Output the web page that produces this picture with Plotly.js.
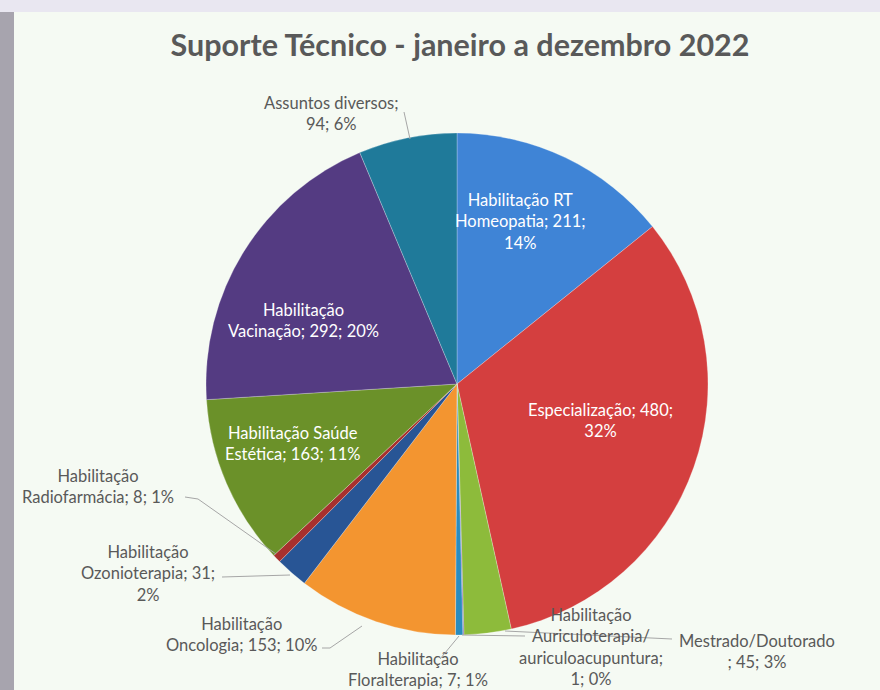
<!DOCTYPE html>
<html>
<head>
<meta charset="utf-8">
<script src="https://cdn.plot.ly/plotly-3.0.1.min.js"></script>
<style>html,body{margin:0;padding:0;background:#f5faf3;}#chart{width:880px;height:690px;}</style>
</head>
<body>
<div id="chart"></div>
<script>
// ---- data ----
const categories = [
  "Habilitação RT Homeopatia",
  "Especialização",
  "Mestrado/Doutorado",
  "Habilitação Auriculoterapia/auriculoacupuntura",
  "Habilitação Floralterapia",
  "Habilitação Oncologia",
  "Habilitação Ozonioterapia",
  "Habilitação Radiofarmácia",
  "Habilitação Saúde Estética",
  "Habilitação Vacinação",
  "Assuntos diversos"
];
const values = [211, 480, 45, 1, 7, 153, 31, 8, 163, 292, 94];
const percentLabels = ["14%", "32%", "3%", "0%", "1%", "10%", "2%", "1%", "11%", "20%", "6%"];

// ---- styling / layout (not data) ----
const colors = ["#3f84d6", "#d43f3f", "#8dbb3b", "#7a5aa8", "#2a8cbf", "#f39530",
                "#285595", "#a8302e", "#6b9129", "#543b82", "#1f7a9a"];
const textFormats = [
  "Habilitação RT<br>Homeopatia; {v};<br>{p}",
  "Especialização; {v};<br>{p}",
  "Mestrado/Doutorado<br>; {v}; {p}",
  "Habilitação<br>Auriculoterapia/<br>auriculoacupuntura;<br>{v}; {p}",
  "Habilitação<br>Floralterapia; {v}; {p}",
  "Habilitação<br>Oncologia; {v}; {p}",
  "Habilitação<br>Ozonioterapia; {v};<br>{p}",
  "Habilitação<br>Radiofarmácia; {v}; {p}",
  "Habilitação Saúde<br>Estética; {v}; {p}",
  "Habilitação<br>Vacinação; {v}; {p}",
  "Assuntos diversos;<br>{v}; {p}"
];
const labelPos = [
  [520, 221, true], [600, 420, true], [757, 651, false], [591, 647, false],
  [418, 669, false], [241, 634, false], [148, 573, false], [98, 486, false],
  [292, 443, true], [303, 320, true], [331, 114, false]
];
const leaderLines = [
  [[672, 639], [505, 631]],
  [[525, 636], [462, 635]],
  [[440, 659], [459, 636]],
  [[322, 648], [330, 648], [362, 626]],
  [[222, 577], [290, 575]],
  [[185, 497], [198, 499], [276, 554]],
  [[404, 112], [410, 139]]
];

const W = 880, H = 690;
const px = x => x / W, py = y => 1 - y / H;
const cx = 457, cy = 384, R = 251;

const annotations = categories.map((c, i) => ({
  xref: "paper", yref: "paper",
  x: px(labelPos[i][0]), y: py(labelPos[i][1]),
  xanchor: "center", yanchor: "middle", align: "center",
  showarrow: false,
  text: textFormats[i].replace("{v}", values[i]).replace("{p}", percentLabels[i]),
  font: {family: "Lato, 'Open Sans', sans-serif", size: 16.5,
         color: labelPos[i][2] ? "#ffffff" : "#595959"}
}));

const shapes = [
  {type: "rect", xref: "paper", yref: "paper", x0: 0, x1: 1, y0: py(12), y1: 1,
   fillcolor: "#e9e7f1", line: {width: 0}, layer: "below"},
  {type: "rect", xref: "paper", yref: "paper", x0: 0, x1: px(14), y0: 0, y1: py(12),
   fillcolor: "#a7a4ae", line: {width: 0}, layer: "below"}
];
leaderLines.forEach(pts => {
  let d = "M " + pts.map(p => px(p[0]) + "," + py(p[1])).join(" L ");
  shapes.push({type: "path", xref: "paper", yref: "paper", path: d,
               line: {color: "#a6a6a6", width: 1}});
});

const trace = {
  type: "pie",
  labels: categories,
  values: values,
  sort: false,
  direction: "clockwise",
  rotation: 0,
  textinfo: "none",
  hoverinfo: "label+value+percent",
  marker: {colors: colors, line: {color: "rgba(255,255,255,0.25)", width: 1}},
  domain: {x: [px(cx - R), px(cx + R)], y: [py(cy + R), py(cy - R)]},
  showlegend: false
};

const layout = {
  width: W, height: H,
  margin: {l: 0, r: 0, t: 0, b: 0},
  paper_bgcolor: "#f5faf3",
  title: {text: "<b>Suporte Técnico - janeiro a dezembro 2022</b>",
          x: px(460), xanchor: "center", y: py(45), yanchor: "middle",
          font: {family: "Lato, 'Open Sans', sans-serif", size: 30.5, color: "#595959"}},
  annotations: annotations,
  shapes: shapes,
  showlegend: false
};

Plotly.newPlot("chart", [trace], layout, {displayModeBar: false, staticPlot: true});
</script>
</body>
</html>
